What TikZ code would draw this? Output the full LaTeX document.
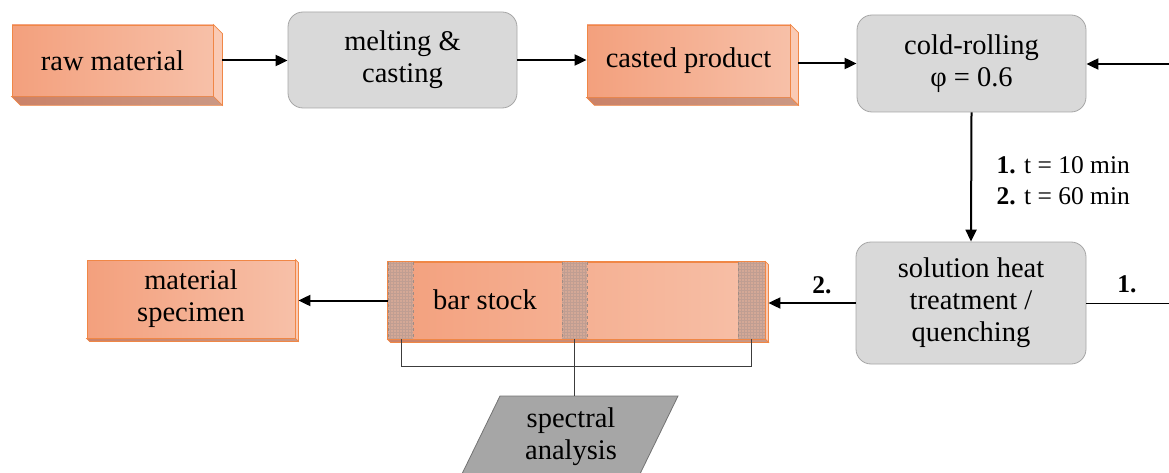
\documentclass[tikz,border=0pt]{standalone}
\usepackage{fontspec}
\setmainfont{Liberation Serif}
\usetikzlibrary{arrows.meta,calc,patterns}
\definecolor{orL}{RGB}{243,160,125}
\definecolor{orR}{RGB}{247,192,168}
\definecolor{orB}{RGB}{240,135,70}
\definecolor{orSide}{RGB}{250,202,180}
\definecolor{orBotL}{RGB}{203,130,104}
\definecolor{orBotR}{RGB}{203,152,132}
\definecolor{grF}{RGB}{217,217,217}
\definecolor{grB}{RGB}{166,166,166}
\definecolor{paraF}{RGB}{166,166,166}
\definecolor{paraB}{RGB}{115,115,115}
\definecolor{hatchF}{RGB}{212,168,150}
\definecolor{hatchL}{RGB}{192,158,146}
\definecolor{hatchE}{RGB}{160,140,132}
\definecolor{lineC}{RGB}{60,60,60}
\newcommand\extrudebox[2]{%
  \fill[orSide,draw=orB,line width=0.7pt] (#1.north east) -- ++(#2,#2) -- ($(#1.south east)+(#2,#2)$) -- (#1.south east) -- cycle;
  \shade[left color=orBotL,right color=orBotR,draw=orB,line width=0.7pt] (#1.south west) -- ++(#2,#2) -- ($(#1.south east)+(#2,#2)$) -- (#1.south east) -- cycle;
}
\begin{document}
\begin{tikzpicture}[x=1pt,y=-1pt,
  txt/.style={font=\fontsize{28.5}{32}\selectfont,align=center},
  small/.style={font=\fontsize{25.5}{30}\selectfont},
  bsmall/.style={font=\fontsize{25.5}{30}\selectfont\bfseries},
  obox/.style={txt,draw=orB,line width=0.8pt,left color=orL,right color=orR,inner sep=0pt},
  gbox/.style={txt,draw=grB,fill=grF,line width=0.8pt,rounded corners=15pt,inner sep=0pt},
  arr/.style={line width=2pt,-{Triangle[length=12pt,width=11pt]}},
  thin/.style={line width=0.8pt,draw=lineC}]
\clip (0,0) rectangle (1169,473);

% nodes
\node[obox,minimum width=201pt,minimum height=71pt] (raw) at (112.5,60.5) {raw material};
\extrudebox{raw}{9}
\node[gbox,minimum width=229pt,minimum height=96pt] (melt) at (402.5,60) {melting \&\\casting};
\node[obox,minimum width=203pt,minimum height=72pt] (cast) at (688.5,61) {casted product};
\extrudebox{cast}{8}
\node[gbox,minimum width=229pt,minimum height=97pt] (cold) at (971.5,63.5) {cold-rolling\\φ = 0.6};
\node[gbox,minimum width=230pt,minimum height=122pt] (sol) at (971,303) {solution heat\\treatment /\\quenching};
\node[obox,minimum width=377pt,minimum height=77pt] (bar) at (576.5,300.5) {};
\extrudebox{bar}{3}
\node[obox,minimum width=208pt,minimum height=78pt] (spec) at (191,299) {material\\specimen};
\extrudebox{spec}{3}

% hatched bands of the bar stock
\foreach \a/\b in {388/413,562/587,738/765}{
  \fill[hatchF] (\a,262) rectangle (\b,339);
  \fill[pattern=grid,pattern color=hatchL] (\a,262) rectangle (\b,339);
  \draw[hatchE,dashed,line width=0.6pt] (\a,262) -- (\a,339) (\b,262) -- (\b,339);
}
\draw[orB,line width=0.8pt] (bar.north west) rectangle (bar.south east);
\node[txt] (bartext) at (485,300) {bar stock};

% spectral analysis parallelogram
\filldraw[fill=paraF,draw=paraB,line width=0.8pt] (500,396) -- (678,396) -- (638,478) -- (460,478) -- cycle;
\node[txt] (ana) at (571,437) {spectral\\analysis};
\coordinate (anatop) at (574,396);

% connectors
\coordinate (rawout) at ($(raw.east)+(9,0)$);
\coordinate (castout) at ($(cast.east)+(8,0)$);
\coordinate (barin) at ($(bar.east)+(3,2.5)$);
\coordinate (specin) at ($(spec.east)+(3,1.5)$);
\draw[arr] (rawout) -- (melt.west |- rawout);
\draw[arr] (melt.east) -- (cast.west |- melt.east);
\draw[arr] (castout |- cold.west) -- (cold.west);
\coordinate (inR) at (1169,64);
\draw[arr] (inR) -- (cold.east |- inR);
\draw[arr] (cold.south) -- (sol.north);
\node[small,anchor=west] (t1) at (993,165) {\textbf{1.} t = 10 min};
\node[small,anchor=west] (t2) at (993,196) {\textbf{2.} t = 60 min};
\coordinate (outR) at (1169,303);
\draw[line width=0.8pt] (sol.east) -- (outR);
\node[bsmall] (l1) at (1127,284) {1.};
\draw[arr] (sol.west) -- (barin);
\node[bsmall] (l2) at (822,285) {2.};
\draw[arr] (bar.west) -- (specin);

% bracket
\coordinate (b1) at (401,339);
\coordinate (b2) at (574,339);
\coordinate (b3) at (751,339);
\draw[thin] (b1) -- (401,366) -- (751,366) -- (b3);
\draw[thin] (b2) -- (anatop);
\end{tikzpicture}
\end{document}
